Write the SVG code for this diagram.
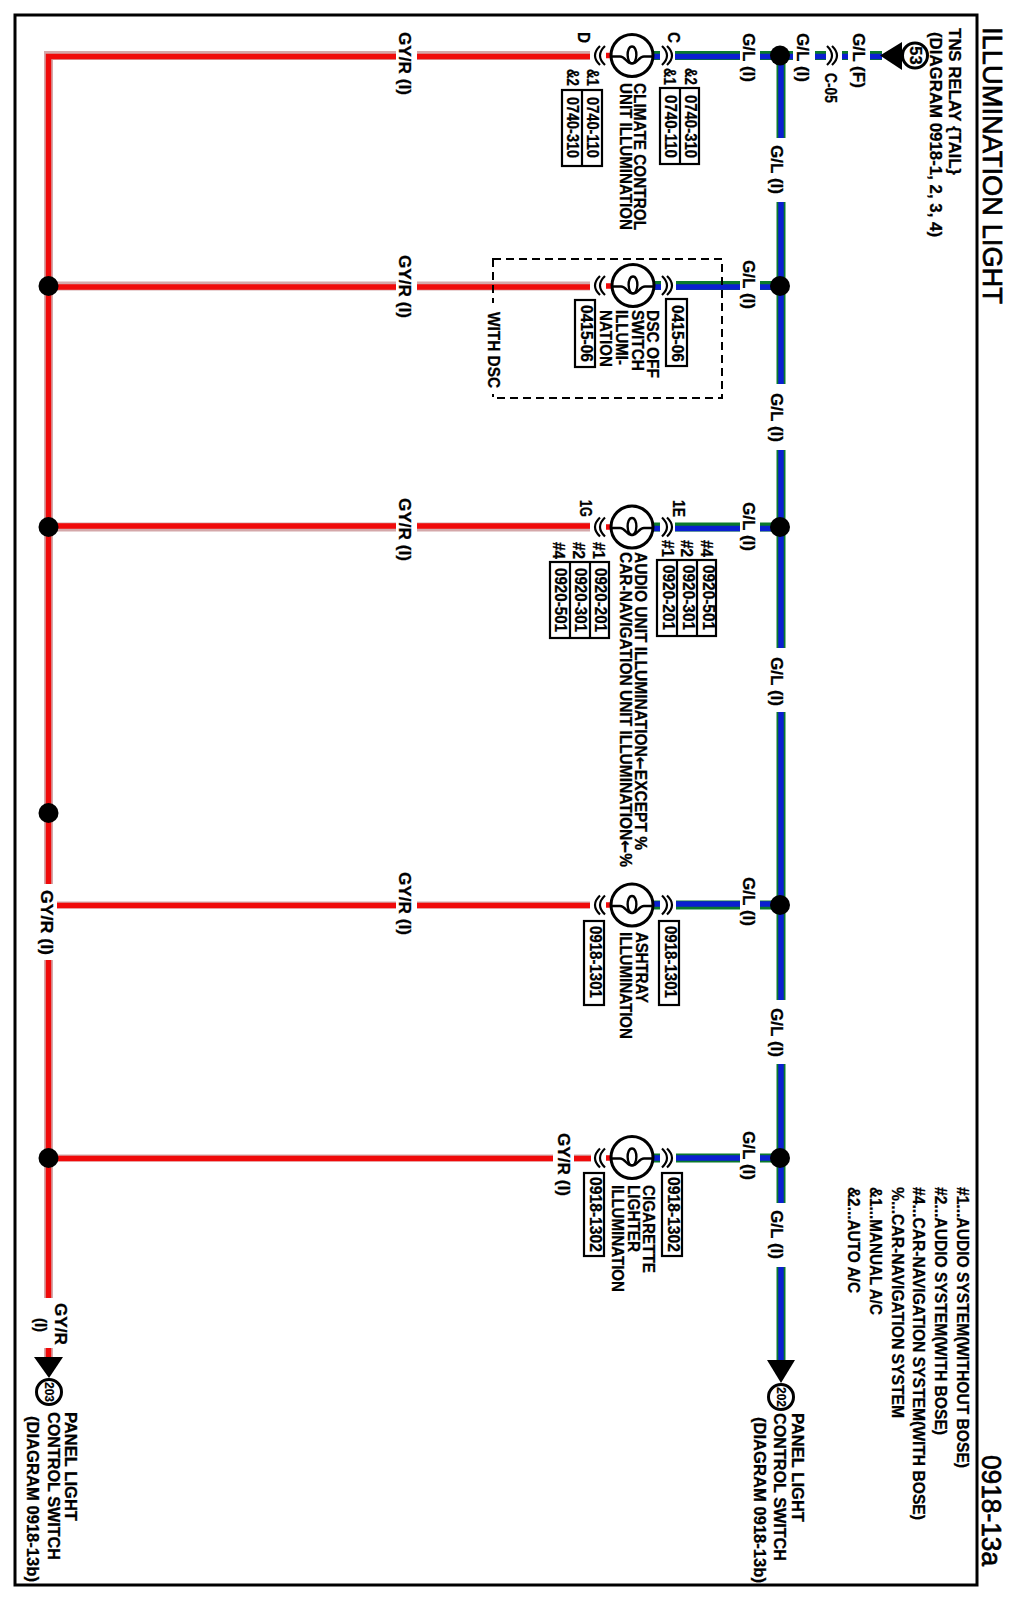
<svg xmlns="http://www.w3.org/2000/svg" width="1014" height="1604" viewBox="0 0 1014 1604">
<style>
text{font-family:"Liberation Sans",Arial,sans-serif;font-weight:bold;font-size:17px;fill:#000;stroke:#000;stroke-width:.3}
.title{font-size:27.500px;font-weight:normal;stroke-width:.7}
.num{font-size:16.500px}
.tiny{font-size:12px;stroke-width:.2}
.arr{font-family:"DejaVu Sans",sans-serif}
.wg{fill:none;stroke:#0a7a2c;stroke-width:9}
.wb{fill:none;stroke:#0a1fd0;stroke-width:5.500}
.rg{fill:none;stroke:#d4a8aa;stroke-width:9}
.rg2{fill:none;stroke:#d4a8aa;stroke-width:7}
.rr{fill:none;stroke:#f00a0a;stroke-width:5.500}
.box{fill:#fff;stroke:#000;stroke-width:2.200}
.thin{fill:none;stroke:#000;stroke-width:2.200}
.frame{fill:none;stroke:#000;stroke-width:3}
.bulb{fill:none;stroke:#000;stroke-width:2.400}
.ring{fill:#fff;stroke:#000;stroke-width:3}
.dash{fill:none;stroke:#000;stroke-width:2;stroke-dasharray:8 5}
</style>
<defs>
<g id="lamp"><circle class="ring" r="21"/><path class="bulb" d="M-21 1H-12C-7 1-5 8-1 8C6 8 6-9 0-9C-6-9-6 8 1 8C5 8 7 1 12 1H21"/></g>
<path id="cr" class="thin" d="M0-9.500Q10 0 0 9.500M5-9.500Q15 0 5 9.500"/>
<path id="cl" class="thin" d="M0-9.500Q-10 0 0 9.500M-5-9.500Q-15 0-5 9.500"/>
</defs>
<rect class="frame" x="15" y="15" width="962" height="1570"/>
<g id="connectors">
<path class="rg" d="M590 55.500H48.500V884M48.500 960V1298M48.500 1348V1360M396 286H48.500M590 286H417M396 527H48.500M590 527H417"/>
<path class="rg2" d="M396 905H57M590 905H417M553 1158H48.500M591 1158H574"/>
<path class="rr" d="M396 56.500H48.500V884M48.500 960V1298M48.500 1348V1360M590 56.500H417M396 287H48.500M590 287H417M396 526H48.500M590 526H417M396 905.500H57M590 905.500H417M553 1158.500H48.500M591 1158.500H574M606 55.500H612M606 286H612M606 527H612M606 905H612M606 1158H612"/>
<path fill="#fff" d="M396 50H417V62H396zM396 280H417V292H396zM396 521H417V533H396zM396 899H417V911H396z"/>
<path class="wg" d="M653 55.500H660M675 55.500H740M760 55.500H793M815 55.500H826M842 55.500H848M870 55.500H882M781 55.500V138M781 202V384M781 450V648M781 712V1000M781 1064V1203M781 1267V1362M654 285.500H661M676 285.500H740M760 285.500H781M653 527H660M675 527H740M760 527H781M653 905H660M676 905H740M760 905H781M653 1158H660M676 1158H740M760 1158H781"/>
<path class="wb" d="M653 56.500H660M675 56.500H740M760 56.500H793M815 56.500H826M842 56.500H848M870 56.500H882M781 55.500V138M781 202V384M781 450V648M781 712V1000M781 1064V1203M781 1267V1362M654 287H661M676 287H740M760 287H781M653 528.500H660M675 528.500H740M760 528.500H781M653 904H660M676 904H740M760 904H781M653 1158H660M676 1158H740M760 1158H781"/>
<rect class="dash" x="493" y="259" width="229" height="139"/>
<path fill="#fff" d="M480 303H505V394H480z"/>
<use href="#cr" x="662" y="55.500"/><use href="#cl" x="605" y="55.500"/>
<use href="#cr" x="662" y="285.500"/><use href="#cl" x="605" y="285.500"/>
<use href="#cr" x="662" y="527"/><use href="#cl" x="605" y="527"/>
<use href="#cr" x="662" y="905"/><use href="#cl" x="605" y="905"/>
<use href="#cr" x="662" y="1158"/><use href="#cl" x="605" y="1158"/>
<use href="#cr" x="827" y="55.500"/>
</g>
<g id="junctions" fill="#000">
<circle cx="780" cy="55.500" r="10"/><circle cx="780" cy="286" r="10"/><circle cx="780" cy="527" r="10"/><circle cx="780" cy="905" r="10"/><circle cx="780" cy="1158" r="10"/>
<circle cx="48.500" cy="286" r="10"/><circle cx="48.500" cy="527" r="10"/><circle cx="48.500" cy="813" r="10"/><circle cx="48.500" cy="1158" r="10"/>
</g>
<g id="title">
<text class="title" transform="translate(983,27) rotate(90)" textLength="277" lengthAdjust="spacingAndGlyphs">ILLUMINATION LIGHT</text>
<text class="title" transform="translate(982,1455) rotate(90)" textLength="111" lengthAdjust="spacingAndGlyphs">0918-13a</text>
</g>
<g id="legend">
<text transform="translate(957,1187) rotate(90)" textLength="281" lengthAdjust="spacingAndGlyphs">#1...AUDIO SYSTEM(WITHOUT BOSE)</text>
<text transform="translate(935,1187) rotate(90)" textLength="248" lengthAdjust="spacingAndGlyphs">#2...AUDIO SYSTEM(WITH BOSE)</text>
<text transform="translate(913,1187) rotate(90)" textLength="333" lengthAdjust="spacingAndGlyphs">#4...CAR-NAVIGATION SYSTEM(WITH BOSE)</text>
<text transform="translate(892,1187) rotate(90)" textLength="231" lengthAdjust="spacingAndGlyphs">%...CAR-NAVIGATION SYSTEM</text>
<text transform="translate(870,1187) rotate(90)" textLength="128" lengthAdjust="spacingAndGlyphs">&amp;1...MANUAL A/C</text>
<text transform="translate(848,1187) rotate(90)" textLength="106" lengthAdjust="spacingAndGlyphs">&amp;2...AUTO A/C</text>
</g>
<g id="tns-relay">
<polygon points="880,55.500 902,42 902,70" fill="#000"/>
<circle class="ring" cx="915" cy="55.500" r="12.500"/>
<text class="num" transform="translate(909.500,55.500) rotate(90)" text-anchor="middle">53</text>
<text transform="translate(949,28) rotate(90)" textLength="147" lengthAdjust="spacingAndGlyphs">TNS RELAY {TAIL}</text>
<text transform="translate(930,32) rotate(90)" textLength="205" lengthAdjust="spacingAndGlyphs">(DIAGRAM 0918-1, 2, 3, 4)</text>
<text transform="translate(853,33) rotate(90)" textLength="55" lengthAdjust="spacingAndGlyphs">G/L (F)</text>
<text transform="translate(797,33) rotate(90)" textLength="49" lengthAdjust="spacingAndGlyphs">G/L (I)</text>
<text class="num" transform="translate(825,73) rotate(90)" textLength="30" lengthAdjust="spacingAndGlyphs">C-05</text>
</g>
<g id="wire-labels">
<text transform="translate(743,33) rotate(90)" textLength="49" lengthAdjust="spacingAndGlyphs">G/L (I)</text>
<text transform="translate(743,260) rotate(90)" textLength="49" lengthAdjust="spacingAndGlyphs">G/L (I)</text>
<text transform="translate(743,502) rotate(90)" textLength="49" lengthAdjust="spacingAndGlyphs">G/L (I)</text>
<text transform="translate(743,877) rotate(90)" textLength="49" lengthAdjust="spacingAndGlyphs">G/L (I)</text>
<text transform="translate(743,1131) rotate(90)" textLength="49" lengthAdjust="spacingAndGlyphs">G/L (I)</text>
<text transform="translate(771,145) rotate(90)" textLength="49" lengthAdjust="spacingAndGlyphs">G/L (I)</text>
<text transform="translate(771,393) rotate(90)" textLength="49" lengthAdjust="spacingAndGlyphs">G/L (I)</text>
<text transform="translate(771,657) rotate(90)" textLength="49" lengthAdjust="spacingAndGlyphs">G/L (I)</text>
<text transform="translate(771,1008) rotate(90)" textLength="49" lengthAdjust="spacingAndGlyphs">G/L (I)</text>
<text transform="translate(771,1210) rotate(90)" textLength="49" lengthAdjust="spacingAndGlyphs">G/L (I)</text>
<text transform="translate(399,32) rotate(90)" textLength="63" lengthAdjust="spacingAndGlyphs">GY/R (I)</text>
<text transform="translate(399,255) rotate(90)" textLength="63" lengthAdjust="spacingAndGlyphs">GY/R (I)</text>
<text transform="translate(399,498) rotate(90)" textLength="63" lengthAdjust="spacingAndGlyphs">GY/R (I)</text>
<text transform="translate(399,872) rotate(90)" textLength="63" lengthAdjust="spacingAndGlyphs">GY/R (I)</text>
<text transform="translate(558,1133) rotate(90)" textLength="63" lengthAdjust="spacingAndGlyphs">GY/R (I)</text>
<text transform="translate(41,890) rotate(90)" textLength="65" lengthAdjust="spacingAndGlyphs">GY/R (I)</text>
</g>
<g id="climate">
<use href="#lamp" x="632" y="55.500"/>
<text transform="translate(668,32) rotate(90)" textLength="11" lengthAdjust="spacingAndGlyphs">C</text>
<text transform="translate(578,32) rotate(90)" textLength="11" lengthAdjust="spacingAndGlyphs">D</text>
<text transform="translate(634,83) rotate(90)" textLength="147" lengthAdjust="spacingAndGlyphs">CLIMATE CONTROL</text>
<text transform="translate(620,83) rotate(90)" textLength="147" lengthAdjust="spacingAndGlyphs">UNIT ILLUMINATION</text>
<rect class="box" x="660" y="88" width="39" height="76"/><path class="thin" d="M680 88V164"/>
<text class="num" transform="translate(685,95) rotate(90)" textLength="63" lengthAdjust="spacingAndGlyphs">0740-310</text>
<text class="num" transform="translate(665,95) rotate(90)" textLength="63" lengthAdjust="spacingAndGlyphs">0740-110</text>
<text class="num" transform="translate(685,68) rotate(90)" textLength="17" lengthAdjust="spacingAndGlyphs">&amp;2</text>
<text class="num" transform="translate(664,68) rotate(90)" textLength="17" lengthAdjust="spacingAndGlyphs">&amp;1</text>
<rect class="box" x="562" y="90" width="40" height="76"/><path class="thin" d="M582 90V166"/>
<text class="num" transform="translate(587,97) rotate(90)" textLength="61" lengthAdjust="spacingAndGlyphs">0740-110</text>
<text class="num" transform="translate(567,97) rotate(90)" textLength="61" lengthAdjust="spacingAndGlyphs">0740-310</text>
<text class="num" transform="translate(587,69) rotate(90)" textLength="17" lengthAdjust="spacingAndGlyphs">&amp;1</text>
<text class="num" transform="translate(567,69) rotate(90)" textLength="17" lengthAdjust="spacingAndGlyphs">&amp;2</text>
</g>
<g id="dsc">
<use href="#lamp" x="633" y="285.500"/>
<text transform="translate(488,312) rotate(90)" textLength="76" lengthAdjust="spacingAndGlyphs">WITH DSC</text>
<text transform="translate(647,310) rotate(90)" textLength="68" lengthAdjust="spacingAndGlyphs">DSC OFF</text>
<text transform="translate(632,310) rotate(90)" textLength="61" lengthAdjust="spacingAndGlyphs">SWITCH</text>
<text transform="translate(616,310) rotate(90)" textLength="55" lengthAdjust="spacingAndGlyphs">ILLUMI-</text>
<text transform="translate(600,310) rotate(90)" textLength="57" lengthAdjust="spacingAndGlyphs">NATION</text>
<rect class="box" x="666" y="299" width="21" height="67"/>
<text class="num" transform="translate(672,305) rotate(90)" textLength="57" lengthAdjust="spacingAndGlyphs">0415-06</text>
<rect class="box" x="575" y="300" width="20" height="67"/>
<text class="num" transform="translate(581,305) rotate(90)" textLength="57" lengthAdjust="spacingAndGlyphs">0415-06</text>
</g>
<g id="audio">
<use href="#lamp" x="632" y="527"/>
<text transform="translate(673,500) rotate(90)" textLength="17" lengthAdjust="spacingAndGlyphs">1E</text>
<text transform="translate(580,500) rotate(90)" textLength="17" lengthAdjust="spacingAndGlyphs">1G</text>
<text transform="translate(635,552) rotate(90)" textLength="298" lengthAdjust="spacingAndGlyphs">AUDIO UNIT ILLUMINATION<tspan class="arr">←</tspan>EXCEPT %</text>
<text transform="translate(620,552) rotate(90)" textLength="315" lengthAdjust="spacingAndGlyphs">CAR-NAVIGATION UNIT ILLUMINATION<tspan class="arr">←</tspan>%</text>
<rect class="box" x="657" y="560" width="59" height="76"/><path class="thin" d="M677 560V636M697 560V636"/>
<text class="num" transform="translate(663,565) rotate(90)" textLength="65" lengthAdjust="spacingAndGlyphs">0920-201</text>
<text class="num" transform="translate(683,565) rotate(90)" textLength="65" lengthAdjust="spacingAndGlyphs">0920-301</text>
<text class="num" transform="translate(703,565) rotate(90)" textLength="65" lengthAdjust="spacingAndGlyphs">0920-501</text>
<text class="num" transform="translate(662,540) rotate(90)" textLength="17" lengthAdjust="spacingAndGlyphs">#1</text>
<text class="num" transform="translate(681,540) rotate(90)" textLength="17" lengthAdjust="spacingAndGlyphs">#2</text>
<text class="num" transform="translate(701,540) rotate(90)" textLength="17" lengthAdjust="spacingAndGlyphs">#4</text>
<rect class="box" x="550" y="562" width="59" height="76"/><path class="thin" d="M570 562V638M590 562V638"/>
<text class="num" transform="translate(595,568) rotate(90)" textLength="64" lengthAdjust="spacingAndGlyphs">0920-201</text>
<text class="num" transform="translate(575,568) rotate(90)" textLength="64" lengthAdjust="spacingAndGlyphs">0920-301</text>
<text class="num" transform="translate(555,568) rotate(90)" textLength="64" lengthAdjust="spacingAndGlyphs">0920-501</text>
<text class="num" transform="translate(593,542) rotate(90)" textLength="17" lengthAdjust="spacingAndGlyphs">#1</text>
<text class="num" transform="translate(573,542) rotate(90)" textLength="17" lengthAdjust="spacingAndGlyphs">#2</text>
<text class="num" transform="translate(553,542) rotate(90)" textLength="17" lengthAdjust="spacingAndGlyphs">#4</text>
</g>
<g id="ashtray">
<use href="#lamp" x="632" y="905"/>
<text transform="translate(636,932) rotate(90)" textLength="71" lengthAdjust="spacingAndGlyphs">ASHTRAY</text>
<text transform="translate(620,932) rotate(90)" textLength="107" lengthAdjust="spacingAndGlyphs">ILLUMINATION</text>
<rect class="box" x="659" y="921" width="20" height="84"/>
<text class="num" transform="translate(665,926) rotate(90)" textLength="72" lengthAdjust="spacingAndGlyphs">0918-1301</text>
<rect class="box" x="584" y="921" width="20" height="84"/>
<text class="num" transform="translate(590,926) rotate(90)" textLength="72" lengthAdjust="spacingAndGlyphs">0918-1301</text>
</g>
<g id="cigarette">
<use href="#lamp" x="632" y="1157.500"/>
<text transform="translate(643,1185) rotate(90)" textLength="88" lengthAdjust="spacingAndGlyphs">CIGARETTE</text>
<text transform="translate(628,1185) rotate(90)" textLength="67" lengthAdjust="spacingAndGlyphs">LIGHTER</text>
<text transform="translate(612,1185) rotate(90)" textLength="107" lengthAdjust="spacingAndGlyphs">ILLUMINATION</text>
<rect class="box" x="662" y="1173" width="20" height="83"/>
<text class="num" transform="translate(668,1177) rotate(90)" textLength="75" lengthAdjust="spacingAndGlyphs">0918-1302</text>
<rect class="box" x="584" y="1173" width="20" height="83"/>
<text class="num" transform="translate(590,1177) rotate(90)" textLength="75" lengthAdjust="spacingAndGlyphs">0918-1302</text>
</g>
<g id="panel-202">
<polygon points="781,1383 767,1360 795,1360" fill="#000"/>
<circle class="ring" cx="781" cy="1397" r="12.500"/>
<text class="tiny" transform="translate(776.500,1397) rotate(90)" text-anchor="middle">202</text>
<text transform="translate(792,1413) rotate(90)" textLength="109" lengthAdjust="spacingAndGlyphs">PANEL LIGHT</text>
<text transform="translate(774,1413) rotate(90)" textLength="148" lengthAdjust="spacingAndGlyphs">CONTROL SWITCH</text>
<text transform="translate(754,1417) rotate(90)" textLength="166" lengthAdjust="spacingAndGlyphs">(DIAGRAM 0918-13b)</text>
</g>
<g id="panel-203">
<polygon points="49,1378 34,1357 63,1357" fill="#000"/>
<circle class="ring" cx="49" cy="1392" r="12.500"/>
<text class="tiny" transform="translate(44.500,1392) rotate(90)" text-anchor="middle">203</text>
<text transform="translate(55,1303) rotate(90)" textLength="42" lengthAdjust="spacingAndGlyphs">GY/R</text>
<text transform="translate(35,1318) rotate(90)" textLength="14" lengthAdjust="spacingAndGlyphs">(I)</text>
<text transform="translate(65,1412) rotate(90)" textLength="109" lengthAdjust="spacingAndGlyphs">PANEL LIGHT</text>
<text transform="translate(48,1412) rotate(90)" textLength="148" lengthAdjust="spacingAndGlyphs">CONTROL SWITCH</text>
<text transform="translate(27,1416) rotate(90)" textLength="166" lengthAdjust="spacingAndGlyphs">(DIAGRAM 0918-13b)</text>
</g>
</svg>
